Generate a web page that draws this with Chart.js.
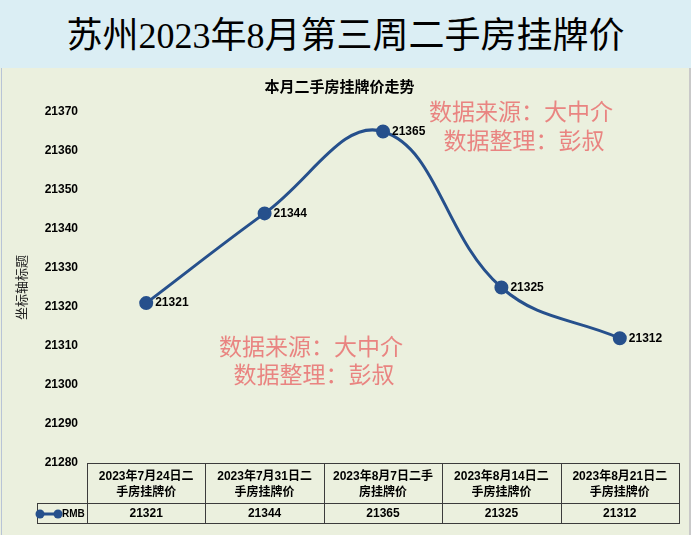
<!DOCTYPE html>
<html>
<head>
<meta charset="utf-8">
<script src="https://cdn.jsdelivr.net/npm/chart.js@4.4.0/dist/chart.umd.min.js"></script>
<style>
  body { margin: 0; width: 691px; height: 535px; overflow: hidden; background: #ebf0de; }
  #header { position: absolute; left: 0; top: 0; width: 691px; height: 68px; background: #dbeef4; }
  #header h1 { margin: 0; font-family: "Liberation Serif", "Noto Sans CJK SC", serif; font-weight: normal;
               font-size: 36px; line-height: 72px; text-align: center; color: #000; }
  #wrap { position: absolute; left: 0; top: 68px; width: 691px; height: 467px; }
  #edgeL { position: absolute; left: 1px; top: 68px; width: 1px; height: 467px; background: #b8c4d6; }
  #edgeR { position: absolute; left: 689px; top: 68px; width: 2px; height: 467px; background: #c9c9c9; }
</style>
</head>
<body>
<div id="header"><h1>苏州2023年8月第三周二手房挂牌价</h1></div>
<div id="wrap"><canvas id="chart"></canvas></div>
<div id="edgeL"></div>
<div id="edgeR"></div>
<script>
// datos del grafico
var categories = [
    ['2023年7月24日二', '手房挂牌价'],
    ['2023年7月31日二', '手房挂牌价'],
    ['2023年8月7日二手', '房挂牌价'],
    ['2023年8月14日二', '手房挂牌价'],
    ['2023年8月21日二', '手房挂牌价']
];
var seriesName = 'RMB';
var prices = [21321, 21344, 21365, 21325, 21312];
var yMin = 21280, yMax = 21370, yStep = 10;

var lineColor = '#26508c';
var numFont = 'bold 12px "Liberation Sans", "Noto Sans CJK SC", sans-serif';

// watermark text (annotation, not data)
var marks = [
    { x: 311, y: 278, text: '数据来源：大中介' },
    { x: 314, y: 306, text: '数据整理：彭叔' },
    { x: 521, y: 43, text: '数据来源：大中介' },
    { x: 524, y: 72, text: '数据整理：彭叔' }
];

var extras = {
    id: 'extras',
    afterDatasetsDraw: function (chart) {
        var ctx = chart.ctx;
        var meta = chart.getDatasetMeta(0);
        ctx.save();
        ctx.font = numFont;
        ctx.fillStyle = '#000';
        ctx.textAlign = 'left';
        ctx.textBaseline = 'middle';
        meta.data.forEach(function (pt, i) {
            ctx.fillText(String(prices[i]), pt.x + 9, pt.y);
        });
        ctx.restore();
    },
    afterDraw: function (chart) {
        var ctx = chart.ctx;
        var x = chart.scales.x;
        var n = categories.length;
        var colW = (x.right - x.left) / n;
        var top = x.top, sep = x.top + 40, bottom = x.bottom;
        var keyLeft = 37;
        ctx.save();
        // tabla de datos
        ctx.strokeStyle = '#3c3c3c';
        ctx.lineWidth = 1;
        ctx.beginPath();
        ctx.moveTo(x.left, top + 0.5); ctx.lineTo(x.right, top + 0.5);
        ctx.moveTo(keyLeft, sep + 0.5); ctx.lineTo(x.right, sep + 0.5);
        ctx.moveTo(keyLeft, bottom - 0.5); ctx.lineTo(x.right, bottom - 0.5);
        for (var i = 0; i <= n; i++) {
            var px = Math.round(x.left + i * colW) + 0.5;
            ctx.moveTo(px, top); ctx.lineTo(px, bottom);
        }
        ctx.moveTo(keyLeft + 0.5, sep); ctx.lineTo(keyLeft + 0.5, bottom);
        ctx.stroke();

        var rowY = (sep + bottom) / 2 + 0.5;
        ctx.font = numFont;
        ctx.fillStyle = '#000';
        ctx.textAlign = 'center';
        ctx.textBaseline = 'middle';
        prices.forEach(function (v, i) {
            ctx.fillText(String(v), x.getPixelForValue(i), rowY);
        });

        // legend key
        ctx.strokeStyle = lineColor;
        ctx.fillStyle = lineColor;
        ctx.lineWidth = 3;
        ctx.beginPath();
        ctx.moveTo(38, rowY); ctx.lineTo(59, rowY);
        ctx.stroke();
        [40, 58].forEach(function (cx) {
            ctx.beginPath();
            ctx.arc(cx, rowY, 4.5, 0, Math.PI * 2);
            ctx.fill();
        });
        ctx.fillStyle = '#000';
        ctx.font = 'bold 10px "Liberation Sans", sans-serif';
        ctx.textAlign = 'left';
        ctx.fillText(seriesName, 62, rowY);

        // marcas de agua
        ctx.font = '23px "Noto Sans CJK SC", sans-serif';
        ctx.fillStyle = 'rgba(232, 105, 105, 0.8)';
        ctx.textAlign = 'center';
        marks.forEach(function (m) {
            ctx.fillText(m.text, m.x, m.y);
        });
        ctx.restore();
    }
};

var ctxC = document.getElementById('chart').getContext('2d');
var chart = new Chart(ctxC, {
    type: 'line',
    data: {
        labels: categories,
        datasets: [{
            label: seriesName,
            data: prices,
            borderColor: lineColor,
            backgroundColor: lineColor,
            borderWidth: 3,
            tension: 0.4,
            pointRadius: 5.5,
            pointBackgroundColor: lineColor,
            pointBorderColor: lineColor
        }]
    },
    options: {
        responsive: true,
        maintainAspectRatio: false,
        animation: false,
        layout: { padding: { left: 0, right: 12, top: 0, bottom: 11 } },
        plugins: {
            legend: { display: false },
            tooltip: { enabled: false },
            title: {
                display: true,
                text: '本月二手房挂牌价走势',
                color: '#000',
                font: { family: '"Noto Sans CJK SC", sans-serif', size: 15, weight: 'bold' },
                padding: { top: 9, bottom: 17 }
            }
        },
        scales: {
            x: {
                offset: true,
                grid: { display: false, drawTicks: false },
                border: { display: false },
                ticks: {
                    color: '#000',
                    padding: 5.4,
                    maxRotation: 0,
                    autoSkip: false,
                    font: { family: '"Liberation Sans", "Noto Sans CJK SC", sans-serif', size: 12, weight: 'bold', lineHeight: 1.35 }
                },
                afterFit: function (scale) { scale.height = 61; }
            },
            y: {
                min: yMin,
                max: yMax,
                grid: { display: false, drawTicks: false },
                border: { display: false },
                ticks: {
                    stepSize: yStep,
                    padding: 9,
                    color: '#000',
                    font: { family: '"Liberation Sans", sans-serif', size: 12, weight: 'bold' },
                    callback: function (v) { return String(v); }
                },
                title: {
                    display: true,
                    text: '坐标轴标题',
                    color: '#222',
                    padding: { top: 13, bottom: 0 },
                    font: { family: '"Noto Sans CJK SC", sans-serif', size: 13 }
                },
                afterFit: function (scale) { scale.width = 87; }
            }
        }
    },
    plugins: [extras]
});
</script>
</body>
</html>
